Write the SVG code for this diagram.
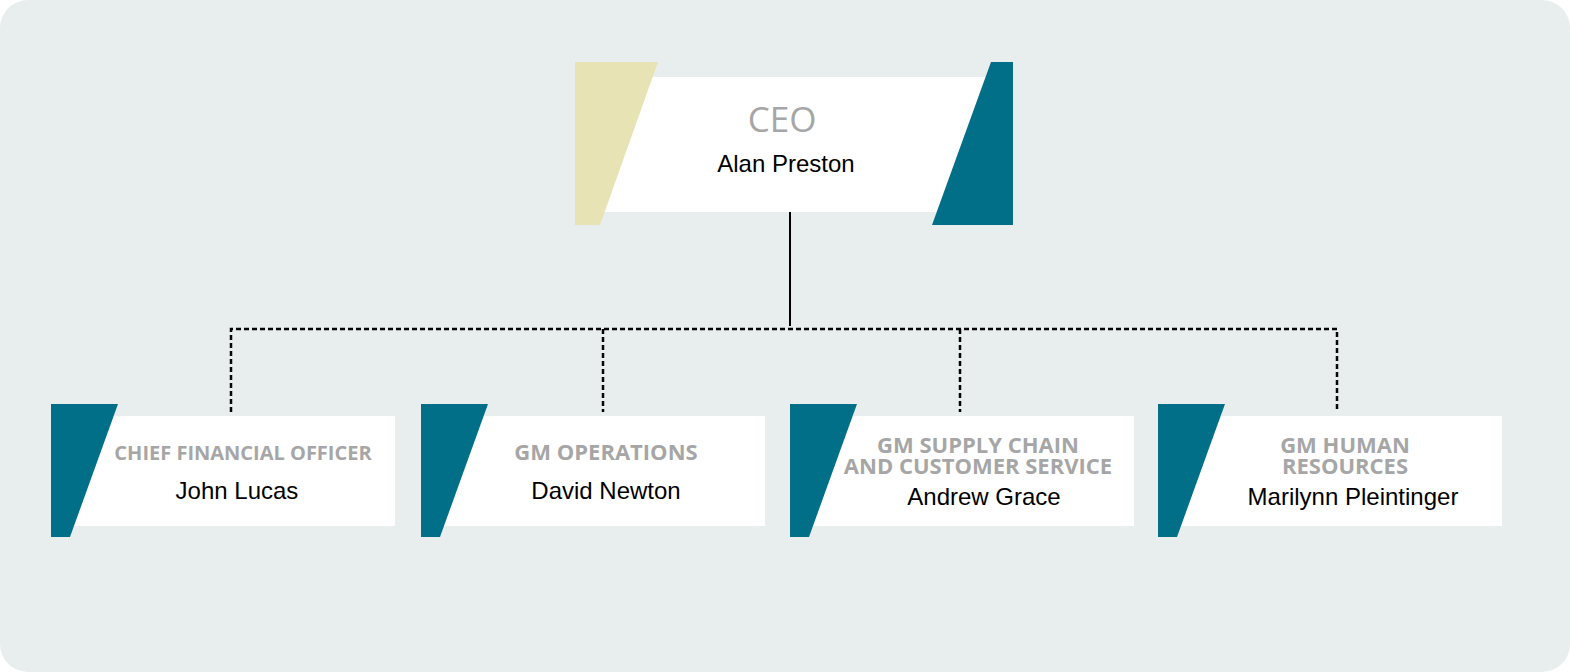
<svg xmlns="http://www.w3.org/2000/svg" width="1570" height="672" viewBox="0 0 1570 672">
<style>
.bg{fill:#E8EEED}
.card{fill:#FFFFFF}
.teal{fill:#006F87}
.tan{fill:#E7E3B5}
.title{font-family:"Open Sans","Liberation Sans",sans-serif;font-weight:700;fill:#A6A6A6;text-anchor:middle}
.head{font-family:"Open Sans","Liberation Sans",sans-serif;font-weight:400;fill:#A6A6A6;text-anchor:middle}
.name{font-family:"Liberation Sans","Arial",sans-serif;fill:#000000;text-anchor:middle}
.solid{stroke:#000;stroke-width:2;fill:none}
.dash{stroke:#000;stroke-width:2.5;fill:none;stroke-dasharray:5 3}
</style>
<rect class="bg" x="0" y="0" width="1570" height="672" rx="28" ry="28"/>
<g id="connectors">
<line class="solid" x1="790" y1="212" x2="790" y2="326"/>
<polyline class="dash" points="231,412 231,329 1337,329 1337,412"/>
<line class="dash" x1="603" y1="329" x2="603" y2="412"/>
<line class="dash" x1="960" y1="329" x2="960" y2="412"/>
</g>
<g id="ceo">
<rect class="card" x="580" y="77" width="420" height="135"/>
<polygon class="tan" points="575,62 658,62 600,225 575,225"/>
<polygon class="teal" points="991,62 1013,62 1013,225 932,225"/>
<text class="head" x="782" y="132" font-size="35">CEO</text>
<text class="name" x="786" y="172" font-size="24">Alan Preston</text>
</g>
<g id="cfo">
<rect class="card" x="55" y="416" width="340" height="110"/>
<polygon class="teal" points="51,404 118,404 70,537 51,537"/>
<text class="title" x="243" y="460" font-size="20">CHIEF FINANCIAL OFFICER</text>
<text class="name" x="237" y="499" font-size="24">John Lucas</text>
</g>
<g id="gm-operations">
<rect class="card" x="425" y="416" width="340" height="110"/>
<polygon class="teal" points="421,404 488,404 440,537 421,537"/>
<text class="title" x="606" y="460" font-size="22">GM OPERATIONS</text>
<text class="name" x="606" y="499" font-size="24">David Newton</text>
</g>
<g id="gm-supply-chain">
<rect class="card" x="794" y="416" width="340" height="110"/>
<polygon class="teal" points="790,404 857,404 809,537 790,537"/>
<text class="title" x="978" y="453" font-size="22">GM SUPPLY CHAIN</text>
<text class="title" x="978" y="474" font-size="22">AND CUSTOMER SERVICE</text>
<text class="name" x="984" y="505" font-size="24">Andrew Grace</text>
</g>
<g id="gm-human-resources">
<rect class="card" x="1162" y="416" width="340" height="110"/>
<polygon class="teal" points="1158,404 1225,404 1177,537 1158,537"/>
<text class="title" x="1345" y="453" font-size="22">GM HUMAN</text>
<text class="title" x="1345" y="474" font-size="22">RESOURCES</text>
<text class="name" x="1353" y="505" font-size="24">Marilynn Pleintinger</text>
</g>
</svg>
